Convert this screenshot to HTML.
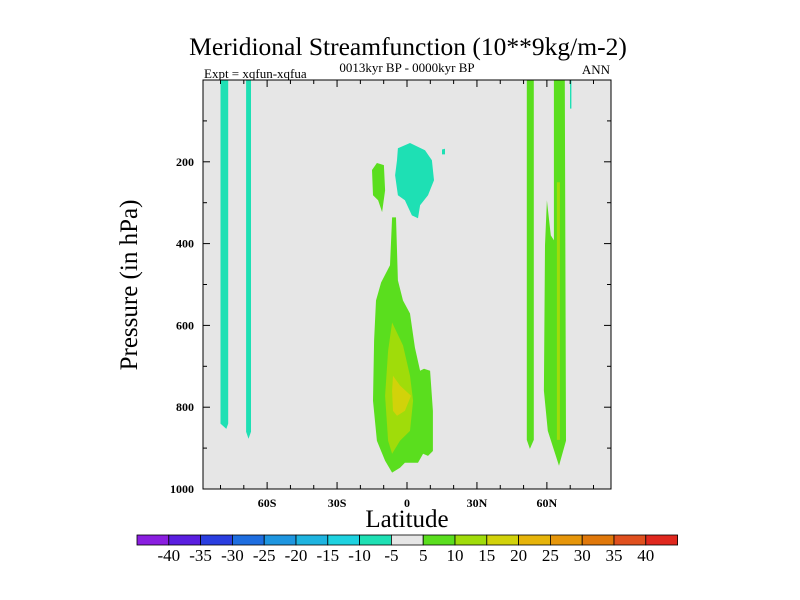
<!DOCTYPE html>
<html><head><meta charset="utf-8"><style>
body{margin:0;background:#fff;}
svg{display:block;font-family:"Liberation Serif",serif;}
</style></head><body>
<svg id="chart" width="800" height="600" xmlns="http://www.w3.org/2000/svg">
<text x="408" y="55" font-size="25.5" text-anchor="middle">Meridional Streamfunction (10**9kg/m-2)</text>
<text x="407" y="72" font-size="13" text-anchor="middle">0013kyr BP - 0000kyr BP</text>
<text x="204" y="78" font-size="13">Expt = xqfun-xqfua</text>
<text x="610" y="74" font-size="13" text-anchor="end">ANN</text>
<rect x="203" y="80" width="408" height="409" fill="#e6e6e6"/>
<g id="contours"></g>
<g id="axes"></g>
<rect x="203" y="80" width="408" height="409" fill="none" stroke="#000" stroke-width="1"/>
<text transform="translate(137,285) rotate(-90)" font-size="25" text-anchor="middle">Pressure (in hPa)</text>
<text x="407" y="527" font-size="25" text-anchor="middle">Latitude</text>
<g id="colorbar"></g>
</svg>
<script>
const latTicks=[-60,-30,0,30,60];
const latLabels=["60S","30S","0","30N","60N"];
const presTicks=[200,400,600,800,1000];
const levels=[-40,-35,-30,-25,-20,-15,-10,-5,5,10,15,20,25,30,35,40];
const cbColors=["#8a1ee0","#5a1ee0","#2a3ee0","#1e6ee0","#1e96e0","#1eb4e0","#1ed2e0","#1ee0b4","#e6e6e6","#5ade1e","#a0dc0a","#d2d20a","#e6b40a","#e6960a","#e0780a","#e0501e","#e0281e"];
const cCyan="#1ee0b4",cG1="#5ade1e",cG2="#a0dc0a",cY="#d2d20a";
const shapes=[
 {c:cCyan,pts:[[-80,0],[-76.7,0],[-76.7,840],[-77.5,853],[-80,840]]},
 {c:cCyan,pts:[[-69,0],[-66.9,0],[-66.9,860],[-68,877],[-69,860]]},
 {c:cCyan,pts:[[69.9,0],[70.5,0],[70.5,70],[69.9,70]]},
 {c:cG1,pts:[[-15,220],[-12.9,203],[-9.9,208],[-9.4,270],[-10.7,323],[-12.4,294],[-14.6,282]]},
 {c:cCyan,pts:[[-3.9,167],[1.3,154],[7.7,172],[10.7,196],[11.6,245],[9,282],[5.6,306],[4.7,338],[2.1,331],[-0.9,294],[-3.9,282],[-5.1,233],[-4.3,196]]},
 {c:cCyan,pts:[[15,170],[16.3,168],[16.3,182],[15,182]]},
 {c:cG1,pts:[[-6.4,336],[-4.7,336],[-3.9,490],[-1.7,539],[1.3,571],[3.4,654],[5.6,711],[7.3,706],[9.9,711],[11.1,809],[11.1,907],[9,919],[6.9,914],[4.7,936],[-0.9,936],[-3,948],[-6.4,960],[-9.4,931],[-12.9,882],[-14.6,784],[-14.1,637],[-13.3,539],[-11.1,495],[-7.3,453]]},
 {c:cG2,pts:[[-6.4,593],[-1.7,649],[1.3,723],[2.6,784],[1.3,858],[-3,882],[-6.4,914],[-8.1,882],[-9.4,772],[-8.1,662]]},
 {c:cY,pts:[[-6,723],[-3,747],[1.7,772],[-0.9,809],[-4.3,821],[-6,809],[-6.4,760]]},
 {c:cG1,pts:[[51.4,0],[54.4,0],[54.4,880],[52.7,902],[51.4,880]]},
 {c:cG1,pts:[[63,0],[67.7,0],[68.2,882],[65.2,943],[60.4,858],[58.7,760],[59.2,404],[60,294],[61.7,380],[63,392]]},
 {c:cG2,pts:[[64.3,250],[65.6,250],[65.6,880],[64.3,880]]}
];
const X0=203,X1=611,Y0=80,Y1=489,LATMIN=-87.5,LATMAX=87.5;
const xs=lat=>X0+(lat-LATMIN)/(LATMAX-LATMIN)*(X1-X0);
const ys=p=>Y0+p/1000*(Y1-Y0);
const NS="http://www.w3.org/2000/svg";
function mk(tag,attrs,parent,text){const e=document.createElementNS(NS,tag);for(const k in attrs)e.setAttribute(k,attrs[k]);if(text!==undefined)e.textContent=text;parent.appendChild(e);return e;}
const cg=document.getElementById('contours');
shapes.forEach((s,i)=>{
 const e=mk('polygon',{points:s.pts.map(p=>xs(p[0]).toFixed(1)+','+ys(p[1]).toFixed(1)).join(' '),fill:s.c},cg);
 
 
});
const ag=document.getElementById('axes');
for(let lat=-80;lat<=80;lat+=10){
 const major=lat%30===0, x=xs(lat), L=major?7:4;
 const t1=mk('line',{x1:x,x2:x,y1:Y1,y2:Y1-L,stroke:'#000'},ag);
 
 
 const t2=mk('line',{x1:x,x2:x,y1:Y0,y2:Y0+L,stroke:'#000'},ag);
 
 
}
latTicks.forEach((lat,i)=>{
 const t=mk('text',{x:xs(lat),y:Y1+18,'font-size':12,'font-weight':'bold','text-anchor':'middle'},ag,latLabels[i]);
 
 
});
for(let p=100;p<=1000;p+=100){
 const major=p%200===0,y=ys(p),L=major?7:4;
 const a=mk('line',{x1:X0,x2:X0+L,y1:y,y2:y,stroke:'#000'},ag);
 
 
 const b=mk('line',{x1:X1,x2:X1-L,y1:y,y2:y,stroke:'#000'},ag);
 
 
}
presTicks.forEach(p=>{
 const t=mk('text',{x:X0-9,y:ys(p)+4,'font-size':12,'font-weight':'bold','text-anchor':'end'},ag,String(p));
 
 
});
const cb=document.getElementById('colorbar');
const CBX=137,CBW=31.8,CBY=535,CBH=10;
cbColors.forEach((c,i)=>{
 const r=mk('rect',{x:CBX+i*CBW,y:CBY,width:CBW,height:CBH,fill:c,stroke:'#000','stroke-width':0.8},cb);
 
 
});
levels.forEach((v,i)=>{
 const t=mk('text',{x:CBX+(i+1)*CBW,y:CBY+26,'font-size':17,'text-anchor':'middle'},cb,String(v));
 
 
});
</script>
</body></html>
